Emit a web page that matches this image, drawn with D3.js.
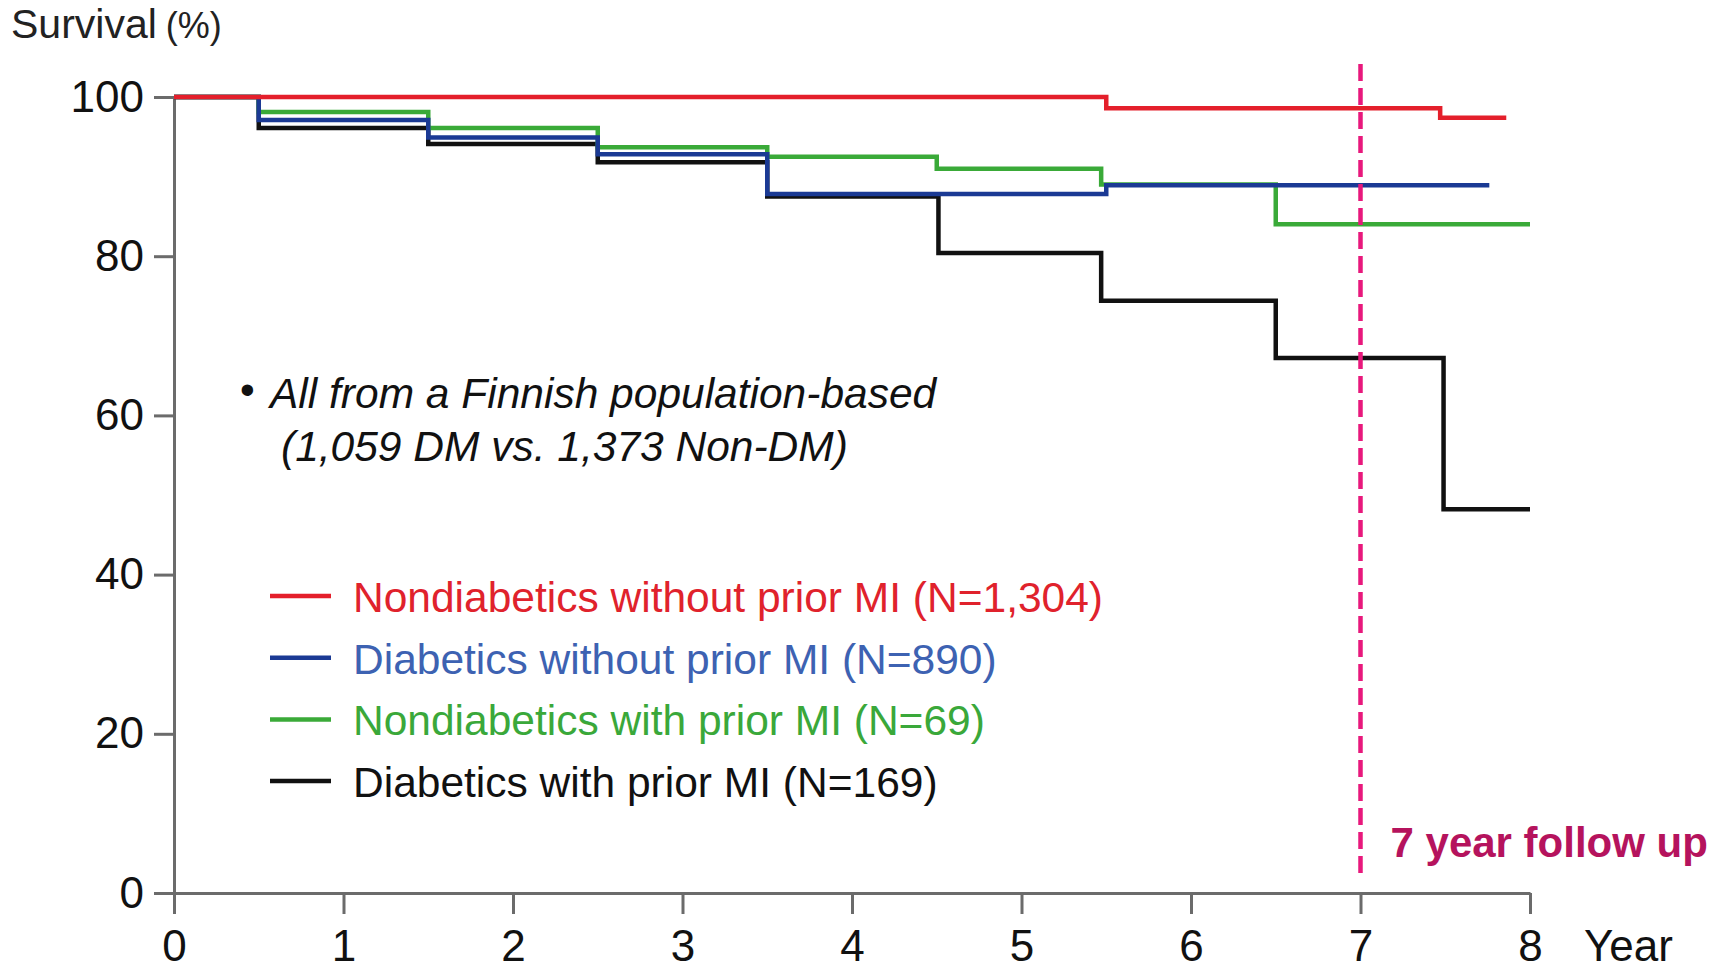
<!DOCTYPE html>
<html>
<head>
<meta charset="utf-8">
<script src="https://cdn.jsdelivr.net/npm/d3@7"></script>
<style>
  body { margin: 0; background: #fff; }
  svg text { font-family: "Liberation Sans", Arial, sans-serif; }
</style>
</head>
<body>
<div id="chart"></div>
<script>
// survival curves: time of each step (years) and survival (%) from that time on
var redT = [0, 5.5, 7.47, 7.86];
var redS = [100, 98.6, 97.4, 97.4];

var blueT = [0, 0.5, 1.5, 2.5, 3.5, 5.5, 7.76];
var blueS = [100, 97.1, 94.9, 92.8, 87.8, 88.9, 88.9];

var greenT = [0, 0.5, 1.5, 2.5, 3.5, 4.5, 5.47, 6.5, 8.0];
var greenS = [100, 98.1, 96.1, 93.7, 92.5, 91.0, 89.0, 84.0, 84.0];

var blackT = [0, 0.5, 1.5, 2.5, 3.5, 4.51, 5.47, 6.5, 7.49, 8.0];
var blackS = [100, 96.1, 94.1, 91.8, 87.5, 80.4, 74.4, 67.2, 48.2, 48.2];

var seriesNames = [
    "Nondiabetics without prior MI (N=1,304)",
    "Diabetics without prior MI (N=890)",
    "Nondiabetics with prior MI (N=69)",
    "Diabetics with prior MI (N=169)"
];
var lineColors = ["#e41f2b", "#1b3a94", "#3aaa38", "#111111"];
var textColors = ["#e0222c", "#3d62b2", "#3aa83a", "#111111"];

var xTicks = [0, 1, 2, 3, 4, 5, 6, 7, 8];
var yTicks = [0, 20, 40, 60, 80, 100];
var followUpYear = 7;

var width = 1728,
    height = 971;

var svg = d3
    .select("#chart")
    .append("svg")
    .attr("width", width)
    .attr("height", height);

var x = d3.scaleLinear().domain([0, 8]).range([174, 1530]);
var y = d3.scaleLinear().domain([0, 100]).range([893, 97]);

// axes
var xAxis = svg
    .append("g")
    .attr("transform", "translate(0," + y(0) + ")")
    .call(d3.axisBottom(x).tickValues(xTicks).tickSize(21).tickSizeOuter(0).tickPadding(16));

var yAxis = svg
    .append("g")
    .attr("transform", "translate(" + x(0) + ",0)")
    .call(d3.axisLeft(y).tickValues(yTicks).tickSize(20).tickSizeOuter(0).tickPadding(10));

[xAxis, yAxis].forEach(function (g) {
    g.attr("font-family", null).attr("font-size", null);
    g.select(".domain").attr("stroke", "#6b6b6b").attr("stroke-width", 3);
    g.selectAll(".tick line").attr("stroke", "#6b6b6b").attr("stroke-width", 3);
    g.selectAll(".tick text").attr("fill", "#111").style("font-size", "44px");
});

svg.append("text")
    .attr("x", 1584)
    .attr("y", 961)
    .attr("fill", "#111")
    .style("font-size", "44px")
    .text("Year");

var ylab = svg.append("text")
    .attr("x", 11)
    .attr("y", 38)
    .attr("fill", "#222");
ylab.append("tspan").style("font-size", "41px").text("Survival");
ylab.append("tspan").attr("dx", 9).style("font-size", "36px").text("(%)");

// curves, black first so red ends up on top
var line = d3.line()
    .x(function (d) { return x(d[0]); })
    .y(function (d) { return y(d[1]); })
    .curve(d3.curveStepAfter);

var curves = [
    { t: blackT, s: blackS, c: lineColors[3] },
    { t: greenT, s: greenS, c: lineColors[2] },
    { t: blueT, s: blueS, c: lineColors[1] },
    { t: redT, s: redS, c: lineColors[0] }
];

curves.forEach(function (k) {
    svg.append("path")
        .datum(d3.zip(k.t, k.s))
        .attr("d", line)
        .attr("fill", "none")
        .attr("stroke", k.c)
        .attr("stroke-width", 4.5);
});

// 7 year follow up marker
svg.append("line")
    .attr("x1", x(followUpYear))
    .attr("x2", x(followUpYear))
    .attr("y1", 64)
    .attr("y2", 880)
    .attr("stroke", "#e8187c")
    .attr("stroke-width", 4.5)
    .attr("stroke-dasharray", "17,7");

svg.append("text")
    .attr("x", x(followUpYear) + 30)
    .attr("y", 857)
    .attr("fill", "#b5135d")
    .style("font-size", "42px")
    .style("font-weight", "bold")
    .text(followUpYear + " year follow up");

// note
svg.append("text")
    .attr("x", 240)
    .attr("y", 404)
    .attr("fill", "#111")
    .style("font-size", "42px")
    .text("\u2022");

svg.append("text")
    .attr("x", 270)
    .attr("y", 408)
    .attr("fill", "#111")
    .style("font-size", "42.5px")
    .style("font-style", "italic")
    .text("All from a Finnish population-based");

svg.append("text")
    .attr("x", 281)
    .attr("y", 461)
    .attr("fill", "#111")
    .style("font-size", "42.5px")
    .style("font-style", "italic")
    .text("(1,059 DM vs. 1,373 Non-DM)");

// legend
var legend = svg.append("g");
seriesNames.forEach(function (name, i) {
    var cy = 596 + i * 61.7;
    legend.append("line")
        .attr("x1", 270)
        .attr("x2", 331)
        .attr("y1", cy)
        .attr("y2", cy)
        .attr("stroke", lineColors[i])
        .attr("stroke-width", 4.5);
    legend.append("text")
        .attr("x", 353)
        .attr("y", cy + 16)
        .attr("fill", textColors[i])
        .style("font-size", "42.5px")
        .text(name);
});
</script>
</body>
</html>
